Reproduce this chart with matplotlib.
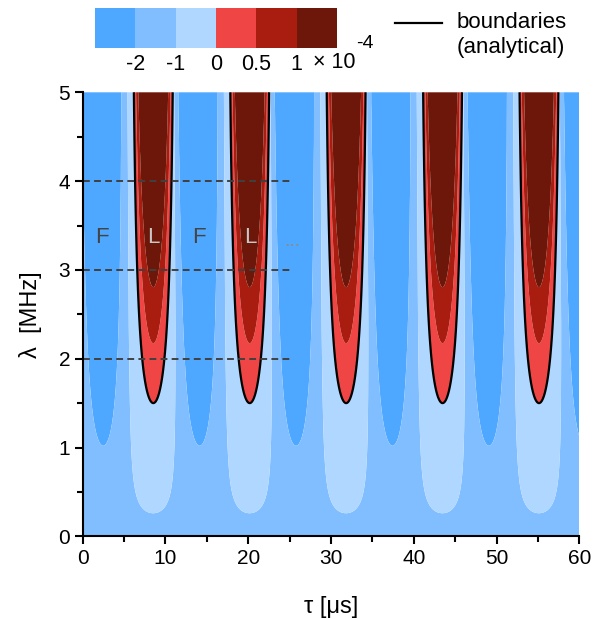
import numpy as np
import matplotlib
matplotlib.use('Agg')
import matplotlib.pyplot as plt
from matplotlib.lines import Line2D
from matplotlib.ticker import MultipleLocator

plt.rcParams['font.family'] = ['Liberation Sans', 'DejaVu Sans']
plt.rcParams['axes.unicode_minus'] = False

# ---- values ----
band_edges = [-2, -1, 0, 0.5, 1]              # colour-band edges (x 1e-4)
band_labels = ['-2', '-1', '0', '0.5', '1']
band_colors = ['#4FA8FF', '#80BEFF', '#B0D7FF', '#EF4545', '#A81D0F', '#6C1709']

period = 11.65          # tau period of the lobes [us]
red_center = 8.53       # tau of first L lobe centre [us]
lambda_c = 1.5          # analytical threshold (tip of L lobes) [MHz]
red_q = [1.0, 1.45, 1.87, 4.0]     # q = lambda/lambda_c*cos(phase) at band edges
red_val = [0.0, 0.5, 1.0, 2.0]
lambda_light = 0.26     # tip of the light-blue lobes [MHz]
light_floor = 0.05
light_drift = -0.06
lambda_dark = 1.02      # tip of the dark-blue lobes [MHz]
dark_offset = -6.0      # dark lobe centre relative to L lobe [us]
dark_drift = -0.05

dashed_lambda = [2, 3, 4]
dashed_tau_end = 25
region_text = ['F', 'L', 'F', 'L']
region_tau = [2.3, 8.55, 14.0, 20.2]
region_lambda = 3.37
region_color = ['#444444', '#C8C8C8', '#444444', '#C8C8C8']

tau_range = (0, 60)
lam_range = (0, 5)

# ---- field on a grid ----
tau = np.linspace(*tau_range, 1500)
lam = np.linspace(*lam_range, 900)
TT, LL = np.meshgrid(tau, lam)
LLs = np.maximum(LL, 1e-6)

def wrap(x):
    return (x + period / 2) % period - period / 2

u = wrap(TT - red_center)
q = LL / lambda_c * np.cos(2 * np.pi * u / period)

ul = wrap(u - light_drift * LL)
c_light = np.maximum((lambda_light / LLs) ** 1.35, light_floor)
r = np.cos(2 * np.pi * ul / period) - c_light

ud = wrap(u - (dark_offset + dark_drift * LL))
D = (LL / lambda_dark) ** 0.8 * np.cos(2 * np.pi * ud / period)

f = np.empty_like(LL)
red = q >= 1
light = (~red) & (r > 0)
dark = (~red) & (~light) & (D > 1)
mid = ~(red | light | dark)
f[red] = np.interp(q[red], red_q, red_val)
s1, s2 = r[light], 1 - q[light]
f[light] = -1 + s1 / (s1 + s2)
f[dark] = -2 - (D[dark] - 1)
s3, s4 = -r[mid], 1 - D[mid]
f[mid] = -1 - s3 / (s3 + s4 + 1e-12)

# ---- figure ----
fig = plt.figure(figsize=(6.02, 6.19), dpi=100)
ax = fig.add_axes([82.7 / 602, 1 - 536.3 / 619, (579.3 - 82.7) / 602, (536.3 - 92.3) / 619])

cf = ax.contourf(TT, LL, f, levels=[-10] + band_edges + [10], colors=band_colors,
                 antialiased=True)
ax.contour(TT, LL, q, levels=[1], colors='k', linewidths=1.6)

for lv in dashed_lambda:
    ax.plot([0, dashed_tau_end], [lv, lv], color='#404040', lw=1.4, dashes=(3.5, 2.2))

for t, x, c in zip(region_text, region_tau, region_color):
    ax.text(x, region_lambda, t, color=c, fontsize=16, ha='center', va='center')
ax.text(25.3, 3.32, '...', color='#8A8A8A', fontsize=14, ha='center', va='center')

ax.set_xlim(*tau_range)
ax.set_ylim(*lam_range)
ax.xaxis.set_major_locator(MultipleLocator(10))
ax.xaxis.set_minor_locator(MultipleLocator(5))
ax.yaxis.set_major_locator(MultipleLocator(1))
ax.yaxis.set_minor_locator(MultipleLocator(0.5))
ax.tick_params(which='both', direction='out', width=1.5, labelsize=15, color='k', pad=3)
ax.tick_params(which='major', length=6)
ax.tick_params(which='minor', length=4)
for s in ['top', 'right']:
    ax.spines[s].set_visible(False)
for s in ['left', 'bottom']:
    ax.spines[s].set_linewidth(1.5)
ax.set_xlabel('τ [μs]', fontsize=17, labelpad=20)
ax.set_ylabel('λ  [MHz]', fontsize=17, labelpad=12)

# colorbar
cax = fig.add_axes([95 / 602, 1 - 48 / 619, 242 / 602, 40 / 619])
cb = fig.colorbar(cf, cax=cax, orientation='horizontal', spacing='uniform', ticks=band_edges)
cb.set_ticklabels(band_labels)
cb.outline.set_visible(False)
cax.tick_params(length=0, labelsize=15.5, pad=4)
fig.text(313 / 602, 1 - 63 / 619, '× 10', fontsize=15.5, ha='left', va='center')
fig.text(356 / 602, 1 - 44 / 619, '-4', fontsize=14, ha='left', va='center')

# legend
fig.add_artist(Line2D([395 / 602, 442 / 602], [1 - 23 / 619, 1 - 23 / 619],
                      color='k', lw=1.6, transform=fig.transFigure))
fig.text(457 / 602, 1 - 22 / 619, 'boundaries', fontsize=16, ha='left', va='center')
fig.text(457 / 602, 1 - 48 / 619, '(analytical)', fontsize=16, ha='left', va='center')

fig.savefig('out.png', dpi=100)
